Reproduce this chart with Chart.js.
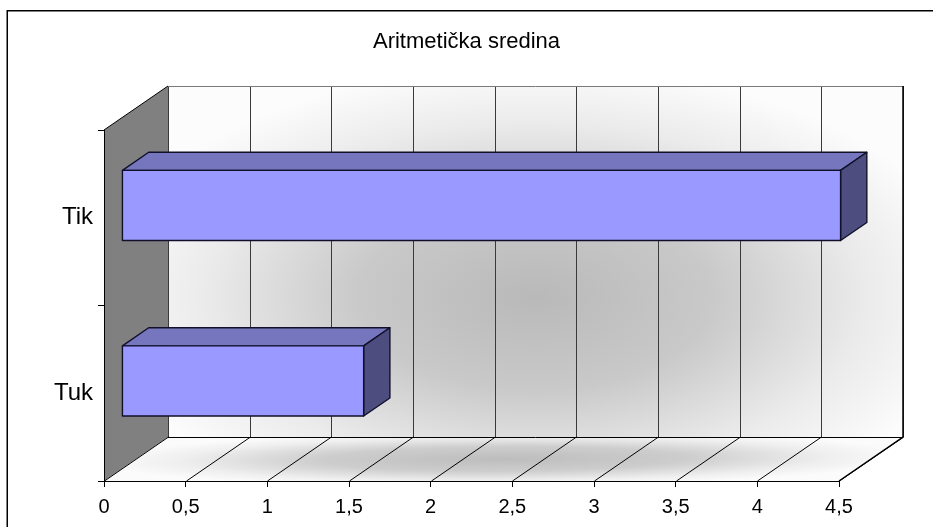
<!DOCTYPE html>
<html>
<head>
<meta charset="utf-8">
<title>Aritmetička sredina</title>
<script src="https://cdn.jsdelivr.net/npm/chart.js@4.4.1/dist/chart.umd.min.js"></script>
<style>
  html, body { margin: 0; padding: 0; background: #fff; }
  canvas { display: block; }
</style>
</head>
<body>
<canvas id="c" width="933" height="527"></canvas>
<script>
// Arithmetic mean per group
const categories = ['Tik', 'Tuk'];
const meanValues = [4.4, 1.48];
const tickValues = [0, 0.5, 1, 1.5, 2, 2.5, 3, 3.5, 4, 4.5];
const tickLabels = ['0', '0,5', '1', '1,5', '2', '2,5', '3', '3,5', '4', '4,5'];

const FONT = "'Liberation Sans', Arial, sans-serif";

// Oblique depth of the 3D box (walls/floor) and of the bars inside it
const DEPTH = { dx: 64, dy: -44 };
const BAR_FRONT = 0.28;   // fraction of depth where the bar's front face sits
const BAR_BACK = 0.69;    // fraction of depth where the bar's back face sits

const COLORS = {
  barFront: '#9999FF',
  barTop: '#7676BE',
  barSide: '#4D4D80',
  barEdge: '#10102a',
  sideWall: '#808080',
  grid: '#3a3a3a'
};

// Fill the parallelogram origin + s*u + t*v (s,t in 0..1) with an elliptical
// centre-out shade, centred at (cx, cy) with radii (rx, ry) in s/t units.
function drawShadedQuad(ctx, origin, uVec, vVec, cx, cy, rx, ry, stops) {
  ctx.save();
  ctx.transform(uVec[0], uVec[1], vVec[0], vVec[1], origin[0], origin[1]);
  ctx.beginPath();
  ctx.rect(0, 0, 1, 1);
  ctx.clip();
  ctx.translate(cx, cy);
  ctx.scale(rx, ry);
  const g = ctx.createRadialGradient(0, 0, 0, 0, 0, 1);
  stops.forEach(s => g.addColorStop(s[0], s[1]));
  ctx.fillStyle = g;
  ctx.fillRect(-cx / rx - 1, -cy / ry - 1, 1 / rx + 2, 1 / ry + 2);
  ctx.restore();
}

const box3d = {
  id: 'box3d',
  beforeDraw(chart) {
    const { ctx, chartArea: a, scales } = chart;
    const xs = scales.x;
    const { dx, dy } = DEPTH;
    const w = a.right - a.left, h = a.bottom - a.top;

    // back wall
    drawShadedQuad(ctx, [a.left + dx, a.top + dy], [w, 0], [0, h], 0.5, 0.6, 0.6, 0.66,
      [[0, '#b9b9b9'], [0.4, '#c9c9c9'], [0.75, '#ebebeb'], [1, '#fcfcfc']]);
    // floor
    drawShadedQuad(ctx, [a.left, a.bottom], [w, 0], [dx, dy], 0.5, 0.5, 0.55, 0.62,
      [[0, '#bdbdbd'], [0.45, '#cdcdcd'], [0.8, '#efefef'], [1, '#fbfbfb']]);

    // left side wall
    ctx.save();
    ctx.beginPath();
    ctx.moveTo(a.left, a.top);
    ctx.lineTo(a.left + dx, a.top + dy);
    ctx.lineTo(a.left + dx, a.bottom + dy);
    ctx.lineTo(a.left, a.bottom);
    ctx.closePath();
    ctx.fillStyle = COLORS.sideWall;
    ctx.fill();

    ctx.lineWidth = 1;
    // gridlines on back wall and floor
    xs.ticks.forEach(t => {
      const px = Math.round(xs.getPixelForValue(t.value)) + 0.5;
      ctx.strokeStyle = COLORS.grid;
      ctx.beginPath();
      ctx.moveTo(px + dx, a.top + dy);
      ctx.lineTo(px + dx, a.bottom + dy);
      ctx.stroke();
      ctx.strokeStyle = '#000';
      ctx.beginPath();
      ctx.moveTo(px, a.bottom);
      ctx.lineTo(px + dx, a.bottom + dy);
      ctx.stroke();
    });

    // box edges
    ctx.strokeStyle = '#7a7a7a';
    ctx.beginPath();
    ctx.moveTo(a.left + dx, a.top + dy + 0.5);
    ctx.lineTo(a.right + dx, a.top + dy + 0.5);
    ctx.stroke();
    ctx.strokeStyle = '#000';
    ctx.beginPath();
    ctx.moveTo(a.left, a.top);
    ctx.lineTo(a.left + dx, a.top + dy);
    ctx.stroke();
    ctx.beginPath();
    ctx.moveTo(a.left + dx, a.bottom + dy + 0.5);
    ctx.lineTo(a.right + dx, a.bottom + dy + 0.5);
    ctx.stroke();
    ctx.lineWidth = 1.5;
    ctx.beginPath();
    ctx.moveTo(a.right + dx, a.top + dy);
    ctx.lineTo(a.right + dx, a.bottom + dy);
    ctx.lineTo(a.right, a.bottom);
    ctx.stroke();
    ctx.restore();
  },
  afterDatasetsDraw(chart) {
    const { ctx } = chart;
    const { dx, dy } = DEPTH;
    const meta = chart.getDatasetMeta(0);
    const fx = BAR_FRONT * dx, fy = BAR_FRONT * dy;
    const bx = (BAR_BACK - BAR_FRONT) * dx, by = (BAR_BACK - BAR_FRONT) * dy;
    ctx.save();
    ctx.lineJoin = 'round';
    ctx.lineWidth = 1.4;
    ctx.strokeStyle = COLORS.barEdge;
    meta.data.forEach(el => {
      const p = el.getProps(['x', 'y', 'base', 'height'], true);
      const x0 = p.base + fx, x1 = p.x + fx;
      const y0 = p.y - p.height / 2 + fy, y1 = p.y + p.height / 2 + fy;
      // top face
      ctx.beginPath();
      ctx.moveTo(x0, y0);
      ctx.lineTo(x0 + bx, y0 + by);
      ctx.lineTo(x1 + bx, y0 + by);
      ctx.lineTo(x1, y0);
      ctx.closePath();
      ctx.fillStyle = COLORS.barTop;
      ctx.fill();
      ctx.stroke();
      // end face
      ctx.beginPath();
      ctx.moveTo(x1, y0);
      ctx.lineTo(x1 + bx, y0 + by);
      ctx.lineTo(x1 + bx, y1 + by);
      ctx.lineTo(x1, y1);
      ctx.closePath();
      ctx.fillStyle = COLORS.barSide;
      ctx.fill();
      ctx.stroke();
      // front face
      ctx.beginPath();
      ctx.rect(x0, y0, x1 - x0, y1 - y0);
      ctx.fillStyle = COLORS.barFront;
      ctx.fill();
      ctx.stroke();
    });
    ctx.restore();
  },
  afterDraw(chart) {
    const { ctx } = chart;
    ctx.save();
    ctx.strokeStyle = '#000';
    ctx.lineWidth = 1.5;
    ctx.strokeRect(7.25, 10.75, 1000, 1000);
    ctx.restore();
  }
};

new Chart(document.getElementById('c'), {
  type: 'bar',
  data: {
    labels: categories,
    datasets: [{
      label: 'Aritmetička sredina',
      data: meanValues,
      backgroundColor: 'rgba(0,0,0,0)',
      borderWidth: 0,
      barPercentage: 0.4,
      categoryPercentage: 1.0
    }]
  },
  options: {
    indexAxis: 'y',
    responsive: false,
    animation: false,
    devicePixelRatio: 1,
    layout: { padding: 0 },
    plugins: {
      legend: { display: false },
      tooltip: { enabled: false },
      title: {
        display: true,
        text: 'Aritmetička sredina',
        color: '#000',
        font: { family: FONT, size: 22, weight: 'normal' },
        padding: { top: 28.8, bottom: 74.8 }
      }
    },
    scales: {
      x: {
        type: 'linear',
        min: 0,
        max: 4.5,
        afterBuildTicks: s => { s.ticks = tickValues.map(v => ({ value: v })); },
        afterFit: s => { s.height = 46; },
        ticks: {
          autoSkip: false,
          maxRotation: 0,
          padding: 8,
          color: '#000',
          font: { family: FONT, size: 20 },
          callback: (v) => tickLabels[tickValues.indexOf(v)]
        },
        grid: { drawOnChartArea: false, drawTicks: true, tickLength: 6, color: '#000' },
        border: { display: true, color: '#000', width: 1 }
      },
      y: {
        afterFit: s => { s.width = 104; },
        ticks: {
          padding: 5,
          color: '#000',
          font: { family: FONT, size: 24 }
        },
        grid: { drawOnChartArea: false, drawTicks: true, tickLength: 6, color: '#000', offset: true },
        border: { display: true, color: '#000', width: 1 }
      },
      // empty right-hand gutter between the plot box and the frame edge
      gutter: {
        type: 'linear',
        axis: 'y',
        position: 'right',
        display: true,
        afterFit: s => { s.width = 94; },
        ticks: { display: false },
        grid: { display: false, drawTicks: false },
        border: { display: false }
      }
    }
  },
  plugins: [box3d]
});
</script>
</body>
</html>
